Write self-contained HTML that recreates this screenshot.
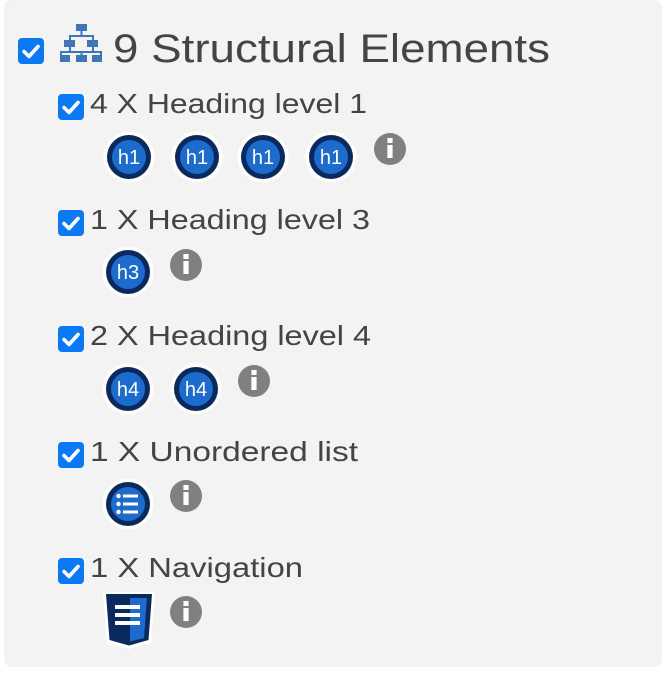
<!DOCTYPE html>
<html><head><meta charset="utf-8"><style>
html,body{margin:0;padding:0;background:#fff;width:666px;height:674px;overflow:hidden}
svg{display:block}
text{font-family:"Liberation Sans",sans-serif}
</style></head><body>
<svg width="666" height="674" viewBox="0 0 666 674" xmlns="http://www.w3.org/2000/svg">
<defs>
<g id="cb">
<rect x="0" y="0" width="26" height="26" rx="4" fill="#0b79f4"/>
<path d="M6 13.5 L11 18.5 L20 8.5" fill="none" stroke="#fff" stroke-width="3.6" stroke-linecap="round" stroke-linejoin="round"/>
</g>
<g id="info">
<circle cx="0" cy="0" r="16" fill="#808080"/>
<rect x="-2.6" y="-4" width="5.2" height="13" fill="#fff"/>
<rect x="-2.6" y="-11" width="5.2" height="5" fill="#fff"/>
</g>
<g id="circ">
<circle cx="0" cy="0" r="25.5" fill="#fff"/>
<circle cx="0" cy="0" r="22" fill="#0a2a5e"/>
<circle cx="0" cy="0" r="17" fill="#1d6bcc"/>
</g>
</defs>
<rect x="4" y="0" width="658" height="667" rx="8" fill="#f3f3f3"/>

<use href="#cb" x="18" y="38"/>
<!-- sitemap icon -->
<g fill="#3f76b8">
<rect x="76" y="24" width="11" height="7"/>
<rect x="80.5" y="31" width="2" height="5"/>
<rect x="69" y="35" width="25" height="2"/>
<rect x="69" y="35" width="2" height="5"/>
<rect x="92" y="35" width="2" height="5"/>
<rect x="64" y="40" width="11" height="7"/>
<rect x="87" y="40" width="11" height="7"/>
<rect x="69" y="47" width="2" height="5"/>
<rect x="92" y="47" width="2" height="5"/>
<rect x="60" y="51" width="42" height="2"/>
<rect x="60" y="51" width="2" height="5"/>
<rect x="80.5" y="51" width="2" height="5"/>
<rect x="100" y="51" width="2" height="5"/>
<rect x="60" y="55" width="10" height="7"/>
<rect x="76" y="55" width="11" height="7"/>
<rect x="92" y="55" width="10" height="7"/>
</g>
<text x="113" y="62" font-size="40" fill="#444" textLength="437" lengthAdjust="spacingAndGlyphs">9 Structural Elements</text>

<!-- row 1 -->
<use href="#cb" x="58" y="94"/>
<text x="90" y="113" font-size="28" fill="#444" textLength="277" lengthAdjust="spacingAndGlyphs">4 X Heading level 1</text>
<g font-size="20" fill="#fff" text-anchor="middle">
<use href="#circ" x="129" y="157"/><text x="129" y="164">h1</text>
<use href="#circ" x="197" y="157"/><text x="197" y="164">h1</text>
<use href="#circ" x="263" y="157"/><text x="263" y="164">h1</text>
<use href="#circ" x="331" y="157"/><text x="331" y="164">h1</text>
</g>
<use href="#info" x="390" y="149"/>

<!-- row 2 -->
<use href="#cb" x="58" y="210"/>
<text x="90" y="229" font-size="28" fill="#444" textLength="280" lengthAdjust="spacingAndGlyphs">1 X Heading level 3</text>
<g font-size="20" fill="#fff" text-anchor="middle">
<use href="#circ" x="128" y="272"/><text x="128" y="279">h3</text>
</g>
<use href="#info" x="186" y="265"/>

<!-- row 3 -->
<use href="#cb" x="58" y="326"/>
<text x="90" y="345" font-size="28" fill="#444" textLength="281" lengthAdjust="spacingAndGlyphs">2 X Heading level 4</text>
<g font-size="20" fill="#fff" text-anchor="middle">
<use href="#circ" x="128" y="389"/><text x="128" y="396">h4</text>
<use href="#circ" x="196" y="389"/><text x="196" y="396">h4</text>
</g>
<use href="#info" x="254" y="381"/>

<!-- row 4 -->
<use href="#cb" x="58" y="442"/>
<text x="90" y="461" font-size="28" fill="#444" textLength="268" lengthAdjust="spacingAndGlyphs">1 X Unordered list</text>
<use href="#circ" x="128" y="504"/>
<g fill="#fff">
<circle cx="118.5" cy="496" r="2.2"/><circle cx="118.5" cy="504" r="2.2"/><circle cx="118.5" cy="512" r="2.2"/>
<rect x="123" y="494.5" width="15" height="3"/><rect x="123" y="502.5" width="15" height="3"/><rect x="123" y="510.5" width="15" height="3"/>
</g>
<use href="#info" x="186" y="496"/>

<!-- row 5 -->
<use href="#cb" x="58" y="558"/>
<text x="90" y="577" font-size="28" fill="#444" textLength="213" lengthAdjust="spacingAndGlyphs">1 X Navigation</text>
<path d="M103 592 L155 592 L151 643 L129 649 L107 643 Z" fill="#fff"/>
<path d="M106 594 L152 594 L148.5 640 L129 645.5 L109.5 640 Z" fill="#0a2a5e"/>
<path d="M130 598 L147 598 L144 638 L130 641.5 Z" fill="#1d6bcc"/>
<g fill="#fff">
<rect x="115" y="605" width="25" height="4"/>
<rect x="115" y="613" width="25" height="4"/>
<rect x="115" y="621" width="25" height="4"/>
</g>
<use href="#info" x="186" y="612"/>
</svg>
</body></html>
